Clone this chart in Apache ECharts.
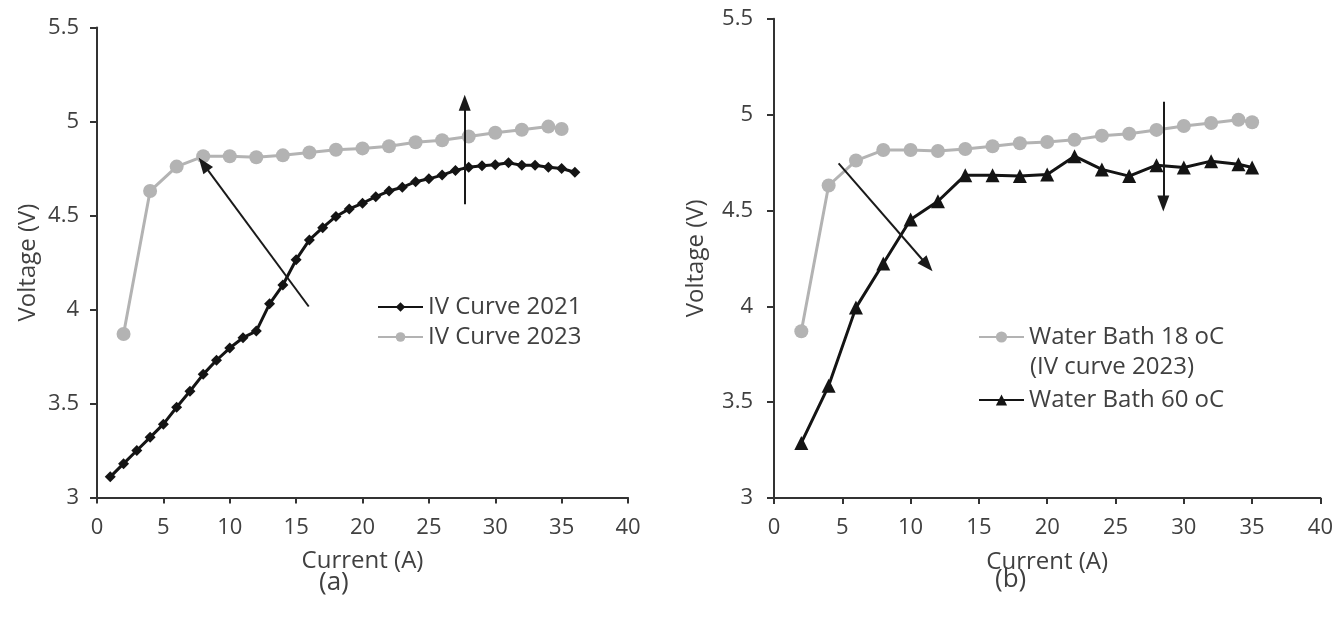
<!DOCTYPE html>
<html>
<head>
<meta charset="utf-8">
<script src="https://cdn.jsdelivr.net/npm/echarts@6/dist/echarts.min.js"></script>
<style>
html,body{margin:0;padding:0;background:#fff;}
#chart{width:1336px;height:625px;}
</style>
</head>
<body>
<div id="chart"></div>
<script>
// ---- Data ----
const current2021 = [1,2,3,4,5,6,7,8,9,10,11,12,13,14,15,16,17,18,19,20,21,22,23,24,25,26,27,28,29,30,31,32,33,34,35,36];
const voltage2021 = [3.11,3.18,3.25,3.32,3.39,3.48,3.565,3.655,3.73,3.795,3.85,3.885,4.03,4.13,4.265,4.37,4.435,4.495,4.535,4.565,4.60,4.63,4.65,4.68,4.695,4.715,4.74,4.757,4.765,4.77,4.78,4.767,4.767,4.757,4.75,4.73];
const current2023 = [2,4,6,8,10,12,14,16,18,20,22,24,26,28,30,32,34,35];
const voltage2023 = [3.87,4.63,4.76,4.815,4.815,4.81,4.82,4.835,4.85,4.857,4.868,4.89,4.90,4.92,4.94,4.956,4.973,4.96];
const currentBath = [2,4,6,8,10,12,14,16,18,20,22,24,26,28,30,32,34,35];
const voltageBath18 = [3.87,4.63,4.76,4.815,4.815,4.81,4.82,4.835,4.85,4.857,4.868,4.89,4.90,4.92,4.94,4.956,4.973,4.96];
const voltageBath60 = [3.287,3.585,3.993,4.223,4.453,4.548,4.684,4.684,4.68,4.687,4.783,4.714,4.679,4.736,4.724,4.757,4.741,4.724];
const arrowsA = [[[15.95,4.016],[8.02,4.773]], [[27.7,4.56],[27.7,5.10]]];
const arrowsB = [[[4.73,4.745],[11.22,4.214]], [[28.5,5.067],[28.5,4.536]]];
const xTicks = {min:0, max:40, interval:5};
const yTicks = {min:3, max:5.5, interval:0.5};
const namesA = ['IV Curve 2021','IV Curve 2023'];
const namesB = ['Water Bath 18 oC','Water Bath 60 oC'];

const FONT = 'Open Sans';
const TXT = '#404040';
const AX = '#333333';
const BLACK = '#141414';
const GRAY = '#b3b3b3';

function pairs(xs, ys){ return xs.map((x,i)=>[x, ys[i]]); }
function arrowData(list){ return list.map(a=>[{coord:a[0]},{coord:a[1]}]); }

function xAxis(idx){
  return {
    type:'value', gridIndex:idx, min:xTicks.min, max:xTicks.max, interval:xTicks.interval,
    name:'Current (A)', nameLocation:'middle', nameGap:52,
    nameTextStyle:{color:TXT, fontFamily:FONT, fontSize:24},
    axisLine:{show:true, lineStyle:{color:AX, width:2}},
    axisTick:{show:true, length:6, lineStyle:{color:AX, width:2}},
    axisLabel:{color:TXT, fontFamily:FONT, fontSize:22, margin:19},
    splitLine:{show:false}
  };
}
function yAxis(idx, gap, lblMargin){
  return {
    type:'value', gridIndex:idx, min:yTicks.min, max:yTicks.max, interval:yTicks.interval,
    name:'Voltage (V)', nameLocation:'middle', nameGap:gap,
    nameTextStyle:{color:TXT, fontFamily:FONT, fontSize:24},
    axisLine:{show:true, lineStyle:{color:AX, width:2}},
    axisTick:{show:true, length:7, lineStyle:{color:AX, width:2}},
    axisLabel:{color:TXT, fontFamily:FONT, fontSize:22, margin:lblMargin},
    splitLine:{show:false}
  };
}
const arrowStyle = {
  silent:true, symbol:['none','triangle'], symbolSize:[12,16],
  lineStyle:{color:'#1a1a1a', width:2, type:'solid'},
  itemStyle:{color:'#1a1a1a'},
  label:{show:false}, emphasis:{disabled:true}, animation:false
};

const option = {
  animation:false,
  backgroundColor:'#fff',
  textStyle:{fontFamily:FONT},
  grid:[
    {left:97, right:708, top:27.5, bottom:127.5},
    {left:774, right:13, top:18.7, bottom:127}
  ],
  xAxis:[xAxis(0), xAxis(1)],
  yAxis:[yAxis(0, 57, 18), yAxis(1, 66, 21)],
  legend:[
    {
      orient:'vertical', left:372, top:290, itemWidth:45, itemHeight:12, itemGap:6,
      data:[namesA[0], namesA[1]],
      textStyle:{color:TXT, fontFamily:FONT, fontSize:24}
    },
    {
      orient:'vertical', left:973, top:320, itemWidth:45, itemHeight:14, itemGap:39,
      data:[namesB[0], namesB[1]],
      textStyle:{color:TXT, fontFamily:FONT, fontSize:24}
    }
  ],
  graphic:[
    {type:'text', left:1030, top:355, style:{text:'(IV curve 2023)', fill:TXT, font:'24px "Open Sans"'}},
    {type:'text', left:319, top:570, style:{text:'(a)', fill:TXT, font:'26px "Open Sans"'}},
    {type:'text', left:995, top:567, style:{text:'(b)', fill:TXT, font:'26px "Open Sans"'}}
  ],
  series:[
    {
      name:namesA[0], type:'line', xAxisIndex:0, yAxisIndex:0,
      data:pairs(current2021, voltage2021),
      symbol:'diamond', symbolSize:11, showAllSymbol:true,
      lineStyle:{color:BLACK, width:3}, itemStyle:{color:BLACK},
      markLine:Object.assign({data:arrowData(arrowsA)}, arrowStyle),
      z:3
    },
    {
      name:namesA[1], type:'line', xAxisIndex:0, yAxisIndex:0,
      data:pairs(current2023, voltage2023),
      symbol:'circle', symbolSize:14, showAllSymbol:true,
      lineStyle:{color:GRAY, width:3}, itemStyle:{color:GRAY},
      z:2
    },
    {
      name:namesB[0], type:'line', xAxisIndex:1, yAxisIndex:1,
      data:pairs(currentBath, voltageBath18),
      symbol:'circle', symbolSize:14, showAllSymbol:true,
      lineStyle:{color:GRAY, width:3}, itemStyle:{color:GRAY},
      z:2
    },
    {
      name:namesB[1], type:'line', xAxisIndex:1, yAxisIndex:1,
      data:pairs(currentBath, voltageBath60),
      symbol:'triangle', symbolSize:14, showAllSymbol:true,
      lineStyle:{color:BLACK, width:3}, itemStyle:{color:BLACK},
      markLine:Object.assign({data:arrowData(arrowsB)}, arrowStyle),
      z:3
    }
  ]
};
const chart = echarts.init(document.getElementById('chart'), null, {renderer:'canvas'});
chart.setOption(option);
</script>
</body>
</html>
